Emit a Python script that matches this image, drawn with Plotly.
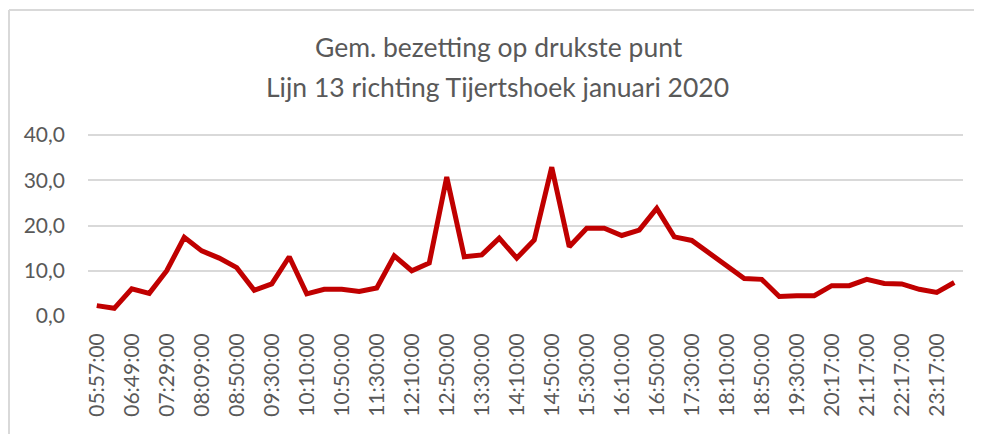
import plotly.graph_objects as go

times = ["05:57:00", "06:19:00", "06:49:00", "07:09:00", "07:29:00", "07:49:00",
         "08:09:00", "08:30:00", "08:50:00", "09:10:00", "09:30:00", "09:50:00",
         "10:10:00", "10:30:00", "10:50:00", "11:10:00", "11:30:00", "11:50:00",
         "12:10:00", "12:30:00", "12:50:00", "13:10:00", "13:30:00", "13:50:00",
         "14:10:00", "14:30:00", "14:50:00", "15:10:00", "15:30:00", "15:50:00",
         "16:10:00", "16:30:00", "16:50:00", "17:10:00", "17:30:00", "17:50:00",
         "18:10:00", "18:30:00", "18:50:00", "19:10:00", "19:30:00", "19:50:00",
         "20:17:00", "20:47:00", "21:17:00", "21:47:00", "22:17:00", "22:47:00",
         "23:17:00", "23:47:00"]

bezetting = [2.3, 1.7, 6.0, 5.0, 10.0, 17.4, 14.4, 12.8, 10.7, 5.7,
             7.1, 13.1, 4.9, 5.9, 5.9, 5.4, 6.2, 13.3, 10.0, 11.7,
             30.7, 13.1, 13.5, 17.2, 12.8, 16.8, 32.9, 15.3, 19.4, 19.4,
             17.8, 19.0, 23.8, 17.5, 16.7, 13.9, 10.9, 8.3, 8.1, 4.3,
             4.5, 4.5, 6.7, 6.7, 8.1, 7.2, 7.1, 5.9, 5.2, 7.4]

title_lines = ["Gem. bezetting op drukste punt", "Lijn 13 richting Tijertshoek januari 2020"]

TEXT = "#595959"
GRID = "#d9d9d9"
FONT = "Lato"

# page body has an 8px margin; work in absolute page pixels and convert
OFF = 8
W, H = 982 - OFF, 434 - OFF
# absolute page positions of the plot area
PL, PR, PT, PB = 88, 963, 126, 316   # top corresponds to y=42
L, R, T, B = PL - OFF, W - (PR - OFF), PT - OFF, H - (PB - OFF)
pw = PR - PL
ph = PB - PT

def px(x):
    return (x - PL) / pw

def py(y):
    return (PB - y) / ph

fig = go.Figure()
fig.add_trace(go.Scatter(
    x=times, y=bezetting, mode="lines",
    line=dict(color="#C00000", width=5),
    showlegend=False, hoverinfo="x+y",
))

annotations = [
    dict(text=title_lines[0], xref="paper", yref="paper",
         x=px(499), y=py(47), xanchor="center", yanchor="middle",
         showarrow=False, font=dict(family=FONT, size=26.5, color=TEXT)),
    dict(text=title_lines[1], xref="paper", yref="paper",
         x=px(497), y=py(87), xanchor="center", yanchor="middle",
         showarrow=False, font=dict(family=FONT, size=26.5, color=TEXT)),
]

fig.update_layout(
    width=W, height=H,
    margin=dict(l=L, r=R, t=T, b=B, autoexpand=False),
    paper_bgcolor="white", plot_bgcolor="white",
    separators=",.",
    font=dict(family=FONT, color=TEXT, size=21),
    annotations=annotations,
    xaxis=dict(
        type="category",
        categoryorder="array", categoryarray=times,
        range=[-0.5, len(times) - 0.5],
        tickmode="linear", tick0=0, dtick=2,
        tickangle=-90,
        showgrid=False, zeroline=False,
        showline=False, automargin=False,
        ticks="", ticklabelstandoff=12,
        tickfont=dict(family=FONT, size=21, color=TEXT),
    ),
    yaxis=dict(
        range=[0, 42], tickmode="array", tickvals=[0, 10, 20, 30, 40],
        tickformat=".1f",
        showgrid=True, gridcolor=GRID, gridwidth=1.5,
        zeroline=False, showline=False, automargin=False,
        ticks="", ticklabelstandoff=22,
        tickfont=dict(family=FONT, size=21, color=TEXT),
    ),
    shapes=[
        dict(type="line", xref="paper", yref="paper",
             x0=px(9), x1=px(995), y0=py(10), y1=py(10),
             line=dict(color=GRID, width=2)),
        dict(type="line", xref="paper", yref="paper",
             x0=px(9), x1=px(9), y0=py(10), y1=py(445),
             line=dict(color=GRID, width=2)),
    ],
)

fig.write_html("out.html")
